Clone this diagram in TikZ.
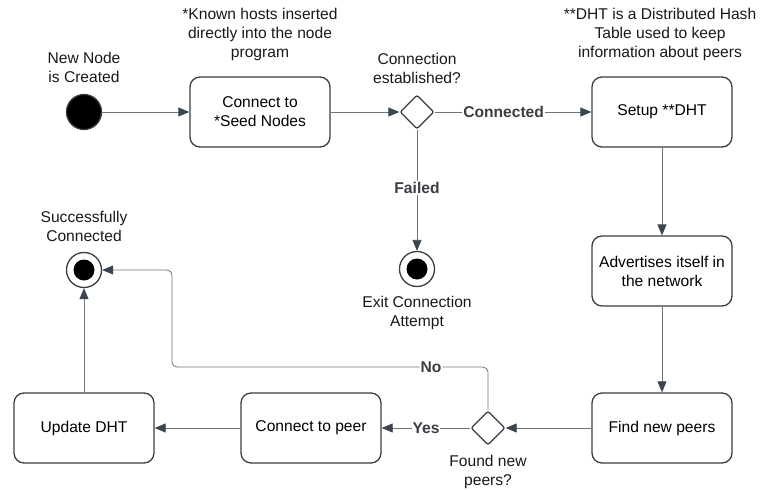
\documentclass[tikz,border=0pt]{standalone}
\usepackage{fontspec}
\setmainfont{Liberation Sans}
\usetikzlibrary{positioning,shapes.geometric,arrows.meta}

\definecolor{boxline}{HTML}{3A3D42}
\definecolor{linegray}{HTML}{6E737A}
\definecolor{tipdark}{HTML}{3B444F}

\tikzset{
  statebox/.style={draw=boxline, line width=1.3pt, rounded corners=10pt,
    minimum width=140pt, minimum height=70pt, align=center,
    font=\fontsize{15.6}{19}\selectfont},
  startstate/.style={circle, draw=boxline, line width=1.3pt, fill=black,
    minimum size=35pt, inner sep=0pt},
  endstate/.style={circle, draw=boxline, line width=1.3pt, fill=white,
    minimum size=35pt, inner sep=0pt,
    path picture={\fill[black] (path picture bounding box.center) circle (10.5pt);}},
  choice/.style={diamond, draw=boxline, line width=1.3pt, fill=white,
    minimum size=34pt, inner sep=0pt, rounded corners=2pt},
  note/.style={align=center, font=\fontsize{15.6}{19}\selectfont, text=black!90},
  edgelabel/.style={fill=white, inner sep=1pt, font=\fontsize{15.6}{19}\selectfont\bfseries,
    text=boxline},
  flow/.style={draw=linegray, line width=0.8pt,
    -{Triangle[length=11pt,width=9pt,color=tipdark]}}
}

\begin{document}
\begin{tikzpicture}[x=1pt,y=-1pt]
  \useasboundingbox (0,0) rectangle (761,490);

  % states
  \node[startstate] (start) at (84,112) {};
  \node[statebox] (seed) at (260,112) {Connect to\\*Seed Nodes};
  \node[choice] (established) at (417,112) {};
  \node[statebox] (setup) at (662,112) {Setup **DHT};
  \node[endstate] (exit) at (417,269) {};
  \node[statebox] (advertise) at (662,271) {Advertises itself in\\the network};
  \node[statebox] (findpeers) at (662,428) {Find new peers};
  \node[choice] (found) at (488,428) {};
  \node[statebox] (peer) at (311,428) {Connect to peer};
  \node[statebox] (updatedht) at (84,428) {Update DHT};
  \node[endstate] (success) at (84,270) {};

  % notes
  \node[note] (startnote) at (84,67) {New Node\\is Created};
  \node[note] (seednote) at (260,34) {*Known hosts inserted\\directly into the node\\program};
  \node[note] (establishednote) at (417,68) {Connection\\established?};
  \node[note] (setupnote) at (660,34) {**DHT is a Distributed Hash\\Table used to keep\\information about peers};
  \node[note] (exitnote) at (417,313) {Exit Connection\\Attempt};
  \node[note] (foundnote) at (488,472) {Found new\\peers?};
  \node[note] (successnote) at (84,226) {Successfully\\Connected};

  % transitions
  \draw[flow] (start) -- (seed);
  \draw[flow] (seed) -- (established);
  \draw[flow] (established) -- node[edgelabel,pos=0.44] {Connected} (setup);
  \draw[flow] (established) -- node[edgelabel,pos=0.48] {Failed} (exit);
  \draw[flow] (setup) -- (advertise);
  \draw[flow] (advertise) -- (findpeers);
  \draw[flow] (findpeers) -- (found);
  \draw[flow] (found) -- node[edgelabel] {Yes} (peer);
  \draw[flow] (peer) -- (updatedht);
  \draw[flow] (updatedht) -- (success);
  \coordinate (noturn) at (172,367);
  \draw[flow, rounded corners=5pt] (found.north) |- node[edgelabel,pos=0.59] {No} (noturn)
    -- (noturn |- success) -- (success);
\end{tikzpicture}
\end{document}
